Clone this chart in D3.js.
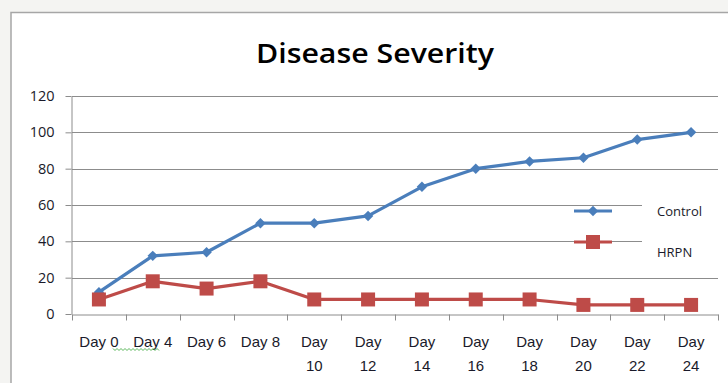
<!DOCTYPE html>
<html>
<head>
<meta charset="utf-8">
<script src="https://cdn.jsdelivr.net/npm/d3@7"></script>
<style>
  body { margin:0; background:#f4f4f2; }
  svg { display:block; font-family:"Open Sans", "Liberation Sans", sans-serif; }
</style>
</head>
<body>
<div id="chart-area"></div>
<script>
// data
var days = ["Day 0","Day 4","Day 6","Day 8","Day 10","Day 12","Day 14","Day 16","Day 18","Day 20","Day 22","Day 24"];
var control = [12, 32, 34, 50, 50, 54, 70, 80, 84, 86, 96, 100];
var hrpn = [8, 18, 14, 18, 8, 8, 8, 8, 8, 5, 5, 5];
var yTicks = [0, 20, 40, 60, 80, 100, 120];
var seriesNames = ["Control", "HRPN"];
var colors = ["#4a7ebb", "#be4b48"];

var W = 728, H = 383;
var margin = { left:72, right:10, top:96, bottom:69 };
var width = W - margin.left - margin.right,
    height = H - margin.top - margin.bottom;

var svg = d3.select("#chart-area").append("svg")
    .attr("width", W)
    .attr("height", H);

// chart frame
svg.append("rect")
    .attr("x", 11).attr("y", 12.5)
    .attr("width", W).attr("height", H)
    .attr("fill", "#fff")
    .attr("stroke", "#a6a6a6")
    .attr("stroke-width", 1.5);

svg.append("text")
    .attr("x", 375).attr("y", 63)
    .attr("text-anchor", "middle")
    .attr("font-size", "27px")
    .attr("font-weight", "600")
    .attr("fill", "#000")
    .attr("textLength", 238)
    .attr("lengthAdjust", "spacingAndGlyphs")
    .text("Disease Severity");

var g = svg.append("g")
    .attr("transform", "translate(" + margin.left + "," + margin.top + ")");

var x = d3.scaleBand().domain(days).range([0, width]);
var y = d3.scaleLinear().domain([0, 120]).range([height, 0]);

// gridlines
g.append("g").selectAll("line")
    .data(yTicks.filter(function(d){ return d > 0; }))
    .enter().append("line")
    .attr("x1", 0).attr("x2", width)
    .attr("y1", function(d){ return Math.round(y(d)) + 0.5; })
    .attr("y2", function(d){ return Math.round(y(d)) + 0.5; })
    .attr("stroke", "#8c8c8c")
    .attr("stroke-width", 1);

// y axis
var yAxis = g.append("g")
    .attr("transform", "translate(-0.5,0)")
    .call(d3.axisLeft(y).tickValues(yTicks).tickSize(6).tickPadding(11).tickSizeOuter(0));
yAxis.selectAll("text").attr("font-size", "14.5px").attr("fill", "#1a1a2a")
    .attr("font-family", "'Open Sans', sans-serif");

// x axis with ticks on band edges
var xAxis = g.append("g")
    .attr("transform", "translate(0," + (Math.round(height) + 0.5) + ")")
    .call(d3.axisBottom(x).tickSize(0).tickPadding(22));
xAxis.append("g").selectAll("line")
    .data(d3.range(days.length + 1))
    .enter().append("line")
    .attr("x1", function(i){ return Math.round(i * x.bandwidth()) + 0.5; })
    .attr("x2", function(i){ return Math.round(i * x.bandwidth()) + 0.5; })
    .attr("y1", 0).attr("y2", 6)
    .attr("stroke", "#8c8c8c");

[yAxis, xAxis].forEach(function(a){
  a.select(".domain").attr("stroke", "#8c8c8c");
  a.selectAll(".tick line").attr("stroke", "#8c8c8c");
});

// wrap long labels onto two lines like the original
xAxis.selectAll(".tick text")
    .attr("font-size", "15px").attr("fill", "#1a1a2a")
    .each(function(d){
      var t = d3.select(this);
      if (d.length > 5) {
        var parts = d.split(" ");
        t.text(null);
        t.append("tspan").attr("x", 0).attr("dy", "0.71em").text(parts[0]);
        t.append("tspan").attr("x", 0).attr("dy", "1.57em").text(parts[1]);
        t.attr("dy", null);
      }
    });

// spell-check squiggle under "0 Day 4"
var sq = d3.range(0, 48, 2).map(function(k, i){ return [113 + k, 349 + (i % 2 ? 1.5 : -0.5)]; });
svg.append("path")
    .attr("d", d3.line()(sq))
    .attr("fill", "none")
    .attr("stroke", "#5cb85c")
    .attr("stroke-width", 1);

// legend box hides the gridlines behind it
svg.append("rect")
    .attr("x", 642).attr("y", 190)
    .attr("width", 76).attr("height", 75)
    .attr("fill", "#fff");

var line = d3.line()
    .x(function(d, i){ return x(days[i]) + x.bandwidth() / 2; })
    .y(function(d){ return y(d); });

var diamond = d3.symbol().type(d3.symbolDiamond2).size(70);

function drawSeries(vals, col, marker){
  g.append("path")
      .datum(vals)
      .attr("d", line)
      .attr("fill", "none")
      .attr("stroke", col)
      .attr("stroke-width", 3.2)
      .attr("stroke-linejoin", "round");
  if (marker == "diamond") {
    g.selectAll(null).data(vals).enter().append("path")
        .attr("d", diamond)
        .attr("transform", function(d, i){
          return "translate(" + (x(days[i]) + x.bandwidth() / 2) + "," + y(d) + ")";
        })
        .attr("fill", col);
  } else {
    g.selectAll(null).data(vals).enter().append("rect")
        .attr("x", function(d, i){ return x(days[i]) + x.bandwidth() / 2 - 7; })
        .attr("y", function(d){ return y(d) - 7; })
        .attr("width", 14).attr("height", 14)
        .attr("fill", col);
  }
}
drawSeries(control, colors[0], "diamond");
drawSeries(hrpn, colors[1], "square");

// legend
var legY = [211, 242], legTextY = [216, 257];
seriesNames.forEach(function(name, i){
  var lg = svg.append("g");
  lg.append("line")
      .attr("x1", 574).attr("x2", 612)
      .attr("y1", legY[i]).attr("y2", legY[i])
      .attr("stroke", colors[i]).attr("stroke-width", 3.2);
  if (i == 0) {
    lg.append("path").attr("d", diamond)
        .attr("transform", "translate(593," + legY[i] + ")")
        .attr("fill", colors[i]);
  } else {
    lg.append("rect").attr("x", 586).attr("y", legY[i] - 7)
        .attr("width", 14).attr("height", 14).attr("fill", colors[i]);
  }
  lg.append("text")
      .attr("x", 657).attr("y", legTextY[i])
      .attr("font-size", "13px").attr("fill", "#1a1a2a")
      .text(name);
});
</script>
</body>
</html>
